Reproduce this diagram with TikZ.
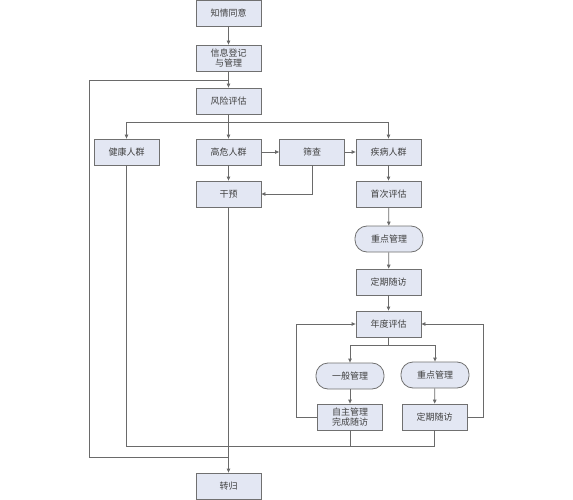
\documentclass[tikz,border=0pt]{standalone}
\usepackage{fontspec}
\newfontfamily\cjk{Noto Sans CJK SC}
\usetikzlibrary{arrows.meta}
\definecolor{boxfill}{HTML}{E3E7F3}
\definecolor{boxline}{HTML}{707070}
\definecolor{txt}{HTML}{404040}
\definecolor{wire}{HTML}{6A6A6A}
\begin{document}
\begin{tikzpicture}[x=1pt,y=-1pt,
  box/.style={draw=boxline,fill=boxfill,line width=0.8pt,minimum width=65pt,minimum height=26pt,inner sep=1pt,font=\cjk\fontsize{9}{10.5}\selectfont,text=txt,align=center},
  pill/.style={box,minimum width=68pt,rounded corners=12pt},
  conn/.style={draw=wire,line width=0.8pt},
  arr/.style={conn,-{Triangle[length=4pt,width=3.5pt]}}]
\useasboundingbox (0,0) rectangle (573,500);
\node[box] (a) at (228.5,13) {知情同意};
\node[box] (b) at (228.5,58) {信息登记\\与管理};
\node[box] (c) at (228.5,101) {风险评估};
\node[box] (h) at (126.5,152) {健康人群};
\node[box] (g) at (228.5,152) {高危人群};
\node[box] (s) at (312,152) {筛查};
\node[box] (d) at (388.5,152) {疾病人群};
\node[box] (y) at (228.5,194) {干预};
\node[box] (f) at (388.5,194) {首次评估};
\node[pill] (z1) at (389,239) {重点管理};
\node[box] (v1) at (388.5,282) {定期随访};
\node[box] (n) at (388.5,324) {年度评估};
\node[pill] (p) at (350,376) {一般管理};
\node[pill] (z2) at (435,375) {重点管理};
\node[box] (q) at (350,417) {自主管理\\完成随访};
\node[box] (v2) at (434.5,417) {定期随访};
\node[box] (t) at (228.5,486) {转归};
\coordinate (j1) at (228.5,80);
\coordinate (j2) at (228.5,122);
\coordinate (j3) at (228.5,457);
\coordinate (j4) at (228.5,446);
\coordinate (j5) at (388.5,345);
\draw[arr] (a) -- (b);
\draw[arr] (b) -- (c);
\draw[conn] (j1) -| (89,457) -- (j3);
\draw[conn] (c) -- (j2);
\draw[arr] (j2) -| (h);
\draw[arr] (j2) -- (g);
\draw[arr] (j2) -| (d);
\draw[arr] (g) -- (s);
\draw[arr] (s) -- (d);
\draw[arr] (g) -- (y);
\draw[arr] (s.south) |- (y.east);
\draw[arr] (y) -- (t);
\draw[arr] (d) -- (f);
\draw[arr] (f) -- (z1);
\draw[arr] (z1) -- (v1);
\draw[arr] (v1) -- (n);
\draw[conn] (n) -- (j5);
\draw[arr] (j5) -| (p);
\draw[arr] (j5) -| (z2);
\draw[arr] (p) -- (q);
\draw[arr] (z2) -- (v2);
\draw[arr] (q.west) -- ++(-21,0) |- (n.west);
\draw[arr] (v2.east) -- ++(16,0) |- (n.east);
\draw[conn] (h) |- (j4);
\draw[conn] (q) |- (j4);
\draw[conn] (v2) |- (j4);
\end{tikzpicture}
\end{document}
